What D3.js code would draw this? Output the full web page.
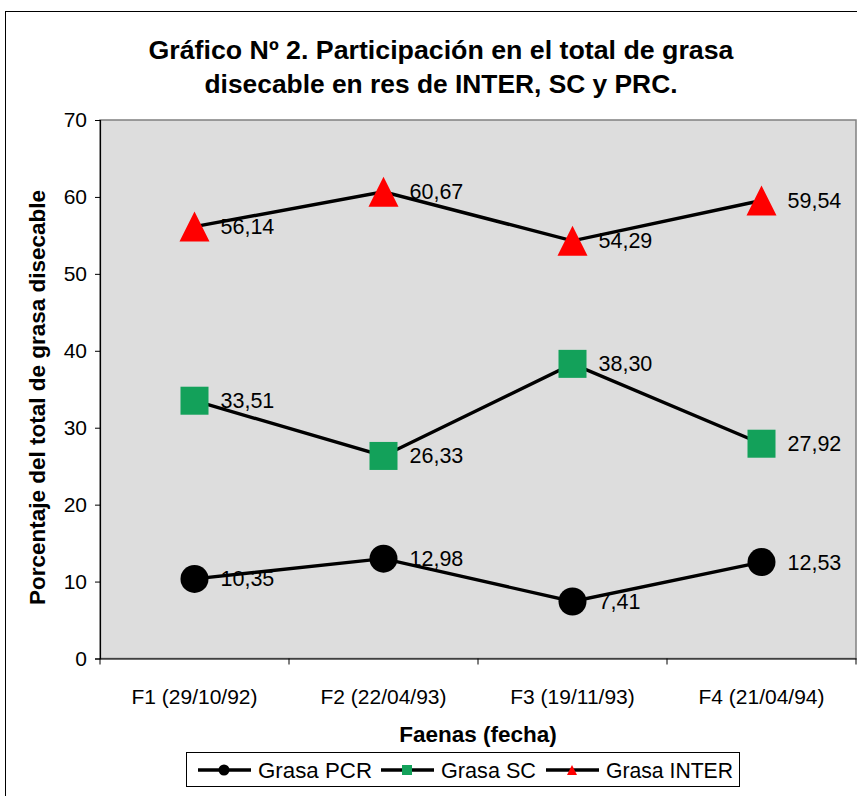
<!DOCTYPE html>
<html>
<head>
<meta charset="utf-8">
<script src="https://cdn.jsdelivr.net/npm/d3@7"></script>
<style>
  html, body { margin: 0; padding: 0; background: #fff; }
  svg { display: block; font-family: "Liberation Sans", Arial, sans-serif; }
</style>
</head>
<body>
<svg id="chart" width="857" height="796"></svg>
<script>
const categories = ["F1 (29/10/92)", "F2 (22/04/93)", "F3 (19/11/93)", "F4 (21/04/94)"];
const seriesNames = ["Grasa PCR", "Grasa SC", "Grasa INTER"];
const pcrValues = [10.35, 12.98, 7.41, 12.53];
const scValues = [33.51, 26.33, 38.30, 27.92];
const interValues = [56.14, 60.67, 54.29, 59.54];
const yTicks = [0, 10, 20, 30, 40, 50, 60, 70];
const titleLines = ["Gráfico Nº 2. Participación en el total de grasa", "disecable en res de INTER, SC y PRC."];
const yTitle = "Porcentaje del total de grasa disecable";
const xTitle = "Faenas (fecha)";

const series = [
  { name: seriesNames[0], values: pcrValues, shape: "circle", color: "#000000" },
  { name: seriesNames[1], values: scValues, shape: "square", color: "#13A15A" },
  { name: seriesNames[2], values: interValues, shape: "triangle", color: "#FF0000" }
];

const svg = d3.select("#chart");
const plot = { left: 100, top: 120, right: 856, bottom: 658.5 };

const x = d3.scaleBand().domain(categories).range([plot.left, plot.right]).paddingInner(0).paddingOuter(0);
const y = d3.scaleLinear().domain([0, 70]).range([plot.bottom, plot.top]);
const fmt = d3.formatLocale({ decimal: ",", thousands: ".", grouping: [3], currency: ["", ""] }).format(".2f");

// outer frame
svg.append("rect").attr("x", 5.5).attr("y", 11.5).attr("width", 900).attr("height", 900)
  .attr("fill", "#fff").attr("stroke", "#000").attr("stroke-width", 1);

// title
const titleWidths = [585, 473];
svg.append("g").selectAll("text").data(titleLines).join("text")
  .attr("x", 441).attr("y", (d, i) => 59 + i * 34)
  .attr("text-anchor", "middle").attr("font-weight", "bold").attr("font-size", 25)
  .attr("textLength", (d, i) => titleWidths[i]).attr("lengthAdjust", "spacingAndGlyphs")
  .attr("fill", "#000").text(d => d);

// plot area
svg.append("rect").attr("x", plot.left).attr("y", plot.top)
  .attr("width", plot.right - plot.left).attr("height", plot.bottom - plot.top)
  .attr("fill", "#DDDDDD").attr("stroke", "#808080").attr("stroke-width", 1.5);

// y axis
const yAxis = d3.axisLeft(y).tickValues(yTicks).tickSize(5).tickPadding(8).tickFormat(d3.format("d"));
const gy = svg.append("g").attr("transform", `translate(${plot.left},0)`).call(yAxis);
gy.select(".domain").attr("stroke", "#000").attr("stroke-width", 1.2);
gy.selectAll(".tick line").attr("stroke", "#000");
gy.selectAll(".tick text").attr("font-size", 21).attr("fill", "#000").attr("font-family", "Liberation Sans, Arial, sans-serif");

// x axis
const xAxis = d3.axisBottom(x).tickSize(0).tickPadding(31);
const gx = svg.append("g").attr("transform", `translate(0,${plot.bottom})`).call(xAxis);
gx.select(".domain").attr("stroke", "#000").attr("stroke-width", 1.2);
gx.selectAll(".tick text").attr("font-size", 21).attr("fill", "#000").attr("font-family", "Liberation Sans, Arial, sans-serif");
// boundary ticks between categories
const boundaries = categories.map(c => x(c)).concat([x(categories[categories.length - 1]) + x.bandwidth()]);
svg.append("g").selectAll("line").data(boundaries).join("line")
  .attr("x1", d => d).attr("x2", d => d)
  .attr("y1", plot.bottom).attr("y2", plot.bottom + 6)
  .attr("stroke", "#000").attr("stroke-width", 1);

// axis titles
svg.append("text").attr("transform", `translate(45,${397.5}) rotate(-90)`)
  .attr("text-anchor", "middle").attr("font-weight", "bold").attr("font-size", 22.5)
  .attr("fill", "#000").text(yTitle);
svg.append("text").attr("x", (plot.left + plot.right) / 2).attr("y", 742)
  .attr("text-anchor", "middle").attr("font-weight", "bold").attr("font-size", 22.5)
  .attr("fill", "#000").text(xTitle);

const cx = c => x(c) + x.bandwidth() / 2;

function drawMarker(g, shape, color, size) {
  if (shape === "circle") {
    g.append("circle").attr("r", size / 2).attr("fill", color);
  } else if (shape === "square") {
    g.append("rect").attr("x", -size / 2).attr("y", -size / 2).attr("width", size).attr("height", size).attr("fill", color);
  } else {
    const h = size;
    g.append("path").attr("d", `M0,${-h / 2} L${size / 2},${h / 2} L${-size / 2},${h / 2} Z`).attr("fill", color);
  }
}

const line = d3.line().x(d => cx(d.c)).y(d => y(d.v));

series.forEach(s => {
  const pts = categories.map((c, i) => ({ c, v: s.values[i] }));
  svg.append("path").datum(pts).attr("d", line)
    .attr("fill", "none").attr("stroke", "#000").attr("stroke-width", 3.4).attr("stroke-linejoin", "miter");
  pts.forEach(p => {
    const g = svg.append("g").attr("transform", `translate(${cx(p.c)},${y(p.v)})`);
    drawMarker(g, s.shape, s.color, s.shape === "triangle" ? 30 : 28);
  });
  svg.append("g").selectAll("text").data(pts).join("text")
    .attr("x", d => cx(d.c) + 26).attr("y", d => y(d.v) + 7.5)
    .attr("font-size", 21.5).attr("fill", "#000").text(d => fmt(d.v));
});

// legend
const legend = svg.append("g");
legend.append("rect").attr("x", 186.5).attr("y", 752.5).attr("width", 553).attr("height", 34)
  .attr("fill", "#fff").attr("stroke", "#000").attr("stroke-width", 1);
const legendX = [198, 381, 546];
const legendW = [114, 95, 127];
series.forEach((s, i) => {
  const lx = legendX[i];
  const g = legend.append("g").attr("transform", `translate(${lx},770)`);
  g.append("line").attr("x1", 0).attr("x2", 53).attr("y1", 0).attr("y2", 0).attr("stroke", "#000").attr("stroke-width", 3.4);
  const m = g.append("g").attr("transform", "translate(26,0)");
  drawMarker(m, s.shape, s.color, s.shape === "circle" ? 11 : 10);
  g.append("text").attr("x", 60).attr("y", 8).attr("font-size", 22)
    .attr("textLength", legendW[i]).attr("lengthAdjust", "spacingAndGlyphs")
    .attr("fill", "#000").text(s.name);
});
</script>
</body>
</html>
